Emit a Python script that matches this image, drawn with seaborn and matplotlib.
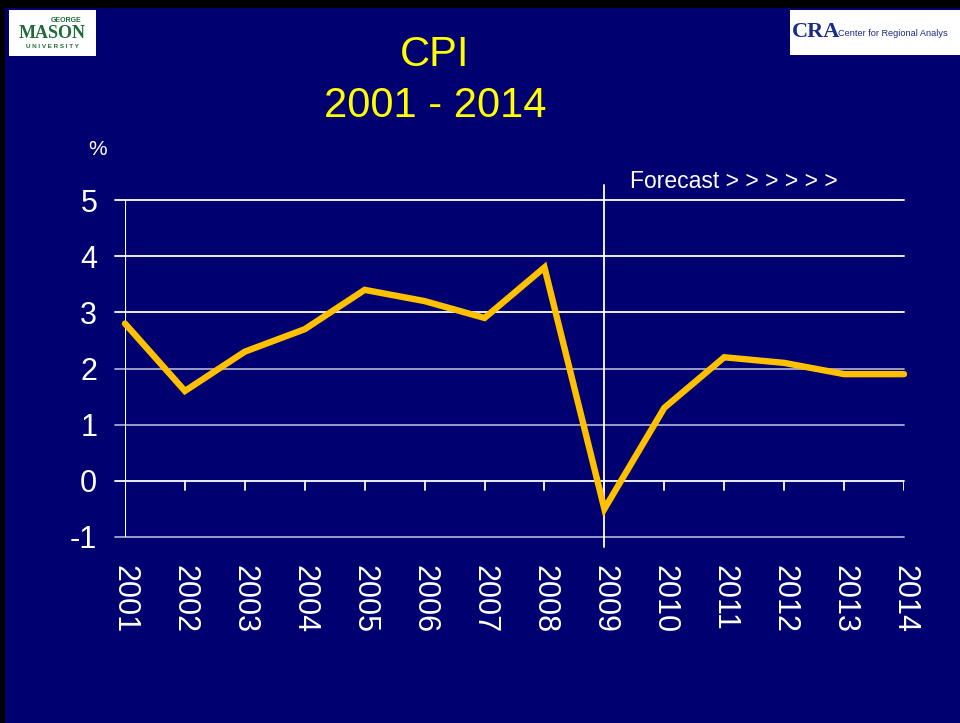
import matplotlib
matplotlib.use('Agg')
import numpy as np
import pandas as pd
import seaborn as sns
from matplotlib import pyplot as plt
from matplotlib.patches import Rectangle

# CPI, annual % change
years = [2001, 2002, 2003, 2004, 2005, 2006, 2007, 2008, 2009, 2010, 2011, 2012, 2013, 2014]
cpi = [2.8, 1.6, 2.3, 2.7, 3.4, 3.2, 2.9, 3.8, -0.5, 1.3, 2.2, 2.1, 1.9, 1.9]
y_ticks = [-1, 0, 1, 2, 3, 4, 5]
forecast_start = 2009

navy = '#000070'
sns.set_theme(style='white')
plt.rcParams['font.family'] = ['Liberation Sans', 'DejaVu Sans']

df = pd.DataFrame({'year': years, 'cpi': cpi})

fig = plt.figure(figsize=(9.6, 7.23), dpi=100, facecolor='black')
# navy slide background (thin black border top/left)
fig.patches.append(Rectangle((5/960, 0), 1, 1 - 8/723, transform=fig.transFigure,
                             facecolor=navy, edgecolor='none', zorder=-5))

ax = fig.add_axes([125/960, 1 - 537/723, (904 - 125)/960, (537 - 200)/723])
ax.set_facecolor(navy)
for s in ax.spines.values():
    s.set_visible(False)

ax.set_xlim(years[0], years[-1])
ax.set_ylim(-1, 5)

# gridlines
for v in y_ticks:
    col = 'white' if v in (0, 5, 3, 4) else '#a8a8d0'
    ax.plot([years[0] - 0.17, years[-1]], [v, v], color=col, lw=1.3, clip_on=False, zorder=1)
# value axis
ax.axvline(years[0], color='white', lw=1.5, zorder=1)
# category ticks on zero line
for yr in years[1:]:
    ax.plot([yr, yr], [0, -0.17], color='white', lw=1.3, zorder=1)
# forecast divider
ax.axvline(forecast_start, ymin=-0.03, ymax=1.045, color='white', lw=1.3, clip_on=False, zorder=1)

sns.lineplot(data=df, x='year', y='cpi', ax=ax, color='#FFC000', lw=4.6,
             zorder=3, clip_on=False, solid_joinstyle='miter')

ax.set_xticks(years)
ax.set_xticklabels([str(y) for y in years], rotation=-90, fontsize=22, color='white')
ax.set_yticks(y_ticks)
ax.set_yticklabels([str(v) for v in y_ticks], fontsize=22, color='white')
ax.tick_params(axis='x', length=0, pad=20)
ax.tick_params(axis='y', length=0, pad=20)
ax.set_xlabel('')
ax.set_ylabel('')

ax.text(-0.035, 1.15, '%', transform=ax.transAxes, fontsize=15, color='white',
        ha='center', va='center')
ax.text(forecast_start + 0.42, 5.33, 'Forecast > > > > > >', fontsize=16.5, color='white',
        ha='left', va='center')

# title
fig.text(435/960, 1 - 55/723, 'CPI', fontsize=30, color='#FFFF00', ha='center', va='center')
fig.text(435/960, 1 - 106/723, '2001 - 2014', fontsize=30, color='#FFFF00', ha='center', va='center')

# logos (approximated)
fig.patches.append(Rectangle((9/960, 1 - 56/723), 87/960, 46/723, transform=fig.transFigure,
                             facecolor='white', edgecolor='none', zorder=2))
fig.text(52/960, 1 - 33/723, 'MASON', fontsize=13, color='#1e6b3a', fontweight='bold',
         family='Liberation Serif', ha='center', va='center', zorder=3)
fig.text(66/960, 1 - 21/723, 'GEORGE', fontsize=5, color='#1e6b3a', fontweight='bold',
         ha='center', va='center', zorder=3)
fig.text(52/960, 1 - 47/723, 'U N I V E R S I T Y', fontsize=4.5, color='#1e6b3a',
         fontweight='bold', ha='center', va='center', zorder=3)

fig.patches.append(Rectangle((790/960, 1 - 55/723), 170/960, 45/723, transform=fig.transFigure,
                             facecolor='white', edgecolor='none', zorder=2))
fig.text(792/960, 1 - 32/723, 'CRA', fontsize=16, color='#1a2a8a', fontweight='bold',
         family='Liberation Serif', ha='left', va='center', zorder=3)
fig.text(838/960, 1 - 34/723, 'Center for Regional Analys', fontsize=6.6, color='#1a2a8a',
         ha='left', va='center', zorder=3)

fig.savefig('out.png', dpi=100, facecolor=fig.get_facecolor())
